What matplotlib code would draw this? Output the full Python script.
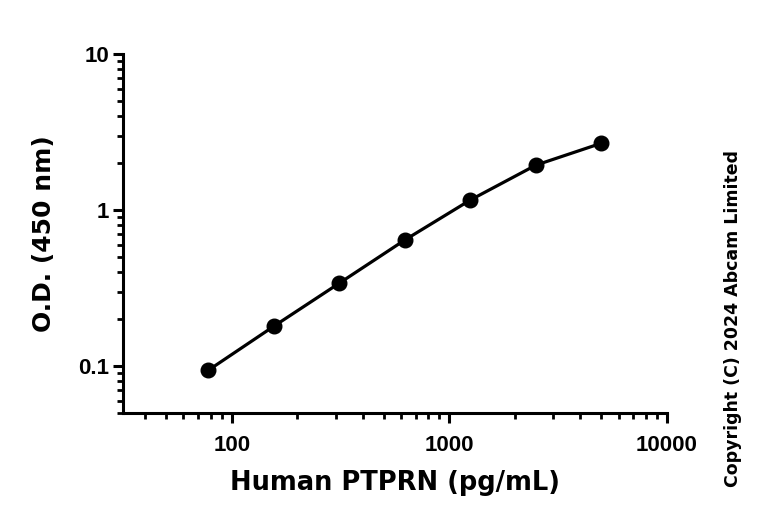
import matplotlib
matplotlib.use("Agg")
import matplotlib.pyplot as plt
from matplotlib.ticker import LogLocator, FixedLocator, NullFormatter

# standard curve, Human PTPRN
conc = [78.125, 156.25, 312.5, 625, 1250, 2500, 5000]
od = [0.094, 0.18, 0.34, 0.643, 1.16, 1.94, 2.68]

x_ticks = [100, 1000, 10000]
x_labels = ["100", "1000", "10000"]
y_ticks = [0.1, 1, 10]
y_labels = ["0.1", "1", "10"]

plt.rcParams["font.family"] = ["Liberation Sans Narrow", "Liberation Sans"]
plt.rcParams["font.weight"] = "bold"

fig = plt.figure(figsize=(7.68, 5.22), dpi=100)
ax = fig.add_axes([0.160, 0.2088, 0.7085, 0.6878])

ax.plot(conc, od, color="black", lw=2.3, solid_capstyle="round")
ax.plot(conc, od, "o", color="black", ms=10.5)

ax.set_xscale("log")
ax.set_yscale("log")
ax.set_xlim(10 ** 1.5, 10000)
ax.set_ylim(0.05, 10)

ax.xaxis.set_major_locator(FixedLocator(x_ticks))
ax.set_xticklabels(x_labels)
ax.yaxis.set_major_locator(FixedLocator(y_ticks))
ax.set_yticklabels(y_labels)
ax.xaxis.set_minor_locator(LogLocator(base=10, subs=range(2, 10)))
ax.yaxis.set_minor_locator(LogLocator(base=10, subs=range(2, 10)))
ax.xaxis.set_minor_formatter(NullFormatter())
ax.yaxis.set_minor_formatter(NullFormatter())

for s in ["top", "right"]:
    ax.spines[s].set_visible(False)
for s in ["left", "bottom"]:
    ax.spines[s].set_linewidth(2.2)

ax.tick_params(which="major", length=7, width=2.2, direction="out",
               labelsize=16)
ax.tick_params(axis="x", which="major", pad=9)
ax.tick_params(axis="y", which="major", pad=3)
ax.tick_params(which="minor", length=4.5, width=2.0, direction="out")

ax.set_xlabel("Human PTPRN (pg/mL)", fontsize=18.5, fontweight="bold",
              family="DejaVu Sans", labelpad=10)
ax.set_ylabel("O.D. (450 nm)", fontsize=18, fontweight="bold",
              family="DejaVu Sans", labelpad=16)

fig.text(0.954, 0.389, "Copyright (C) 2024 Abcam Limited", rotation=90,
         ha="center", va="center", fontsize=12.5, fontweight="bold",
         family="DejaVu Sans")

fig.savefig("out.png", dpi=100)
